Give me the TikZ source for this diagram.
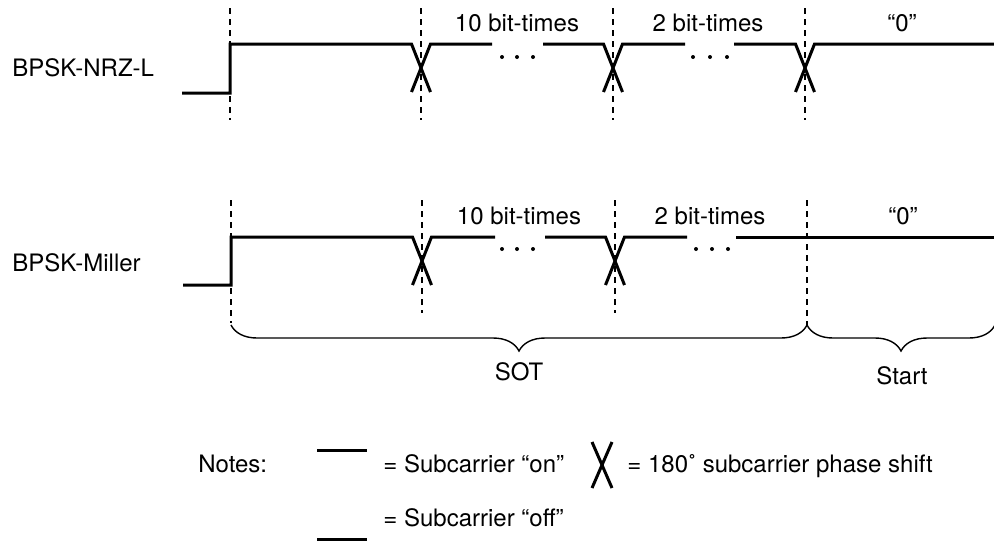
\documentclass[tikz,border=0pt]{standalone}
\usepackage{fontspec}
\setmainfont{TeX Gyre Heros}
\usetikzlibrary{decorations.pathreplacing}

\begin{document}
\begin{tikzpicture}[
    x=0.5pt, y=-0.5pt,
    wave/.style={line width=1.5pt, line join=miter},
    guide/.style={line width=0.7pt, dash pattern=on 3pt off 2.5pt},
    txt/.style={inner sep=0pt, font=\fontsize{12}{14}\selectfont},
    bracket/.style={decorate, decoration={brace, mirror, amplitude=13pt}, line width=0.7pt}]

  \useasboundingbox (0,0) rectangle (994,542);

  % dashed bit boundaries
  \foreach \gx in {230,421,613,805}
    \draw[guide] (\gx,8) -- (\gx,120);
  \draw[guide] (231,200) -- (231,323);
  \draw[guide] (422,200) -- (422,313);
  \draw[guide] (615,200) -- (615,313);
  \draw[guide] (807,200) -- (807,325);

  % BPSK-NRZ-L
  \node[txt, anchor=base west] (nrz) at (12,76.5) {BPSK-NRZ-L};
  \draw[wave] (182,93) -- (230,93) -- (230,44) -- (411.5,44) -- (430.5,92);
  \draw[wave] (411.5,92) -- (430.5,44) -- (492,44);
  \draw[wave] (543,44) -- (603.5,44) -- (622.5,92);
  \draw[wave] (603.5,92) -- (622.5,44) -- (685,44);
  \draw[wave] (734,44) -- (795.5,44) -- (814.5,92);
  \draw[wave] (795.5,92) -- (814.5,44) -- (994,44);
  \foreach \dx in {502,517,533,693,710,727}
    \fill (\dx,57) circle[radius=1pt];
  \node[txt, anchor=base] (nrzten) at (517,31) {10 bit-times};
  \node[txt, anchor=base] (nrztwo) at (708,31) {2 bit-times};
  \node[txt, anchor=base] (nrzzero) at (902,31) {“0”};

  % BPSK-Miller
  \node[txt, anchor=base west] (miller) at (12,271) {BPSK-Miller};
  \draw[wave] (183,285) -- (231,285) -- (231,237) -- (412.5,237) -- (431.5,285);
  \draw[wave] (412.5,285) -- (431.5,237) -- (495,237);
  \draw[wave] (545,237) -- (605.5,237) -- (624.5,285);
  \draw[wave] (605.5,285) -- (624.5,237) -- (687,237);
  \draw[wave] (736,237) -- (994,237);
  \foreach \dx in {502,517,533,696,712,728}
    \fill (\dx,249) circle[radius=1pt];
  \node[txt, anchor=base] (millerten) at (519,224) {10 bit-times};
  \node[txt, anchor=base] (millertwo) at (710,224) {2 bit-times};
  \node[txt, anchor=base] (millerzero) at (903,224) {“0”};

  % braces
  \draw[bracket] (231,325) -- (807,325);
  \draw[bracket] (807,325) -- (995,325);
  \node[txt, anchor=base] (sot) at (519,380) {SOT};
  \node[txt, anchor=base] (start) at (902,384) {Start};

  % notes
  \node[txt, anchor=base west] (notes) at (198,472) {Notes:};
  \draw[wave] (317,450) -- (367,450);
  \node[txt, anchor=base west] (on) at (383,472) {= Subcarrier “on”};
  \draw[wave] (592,442) -- (612,488);
  \draw[wave] (612,442) -- (592,488);
  \node[txt, anchor=base west] (shift) at (627,472) {= 180˚ subcarrier phase shift};
  \draw[wave] (317,539) -- (367,539);
  \node[txt, anchor=base west] (off) at (383,526) {= Subcarrier “off”};
\end{tikzpicture}
\end{document}
